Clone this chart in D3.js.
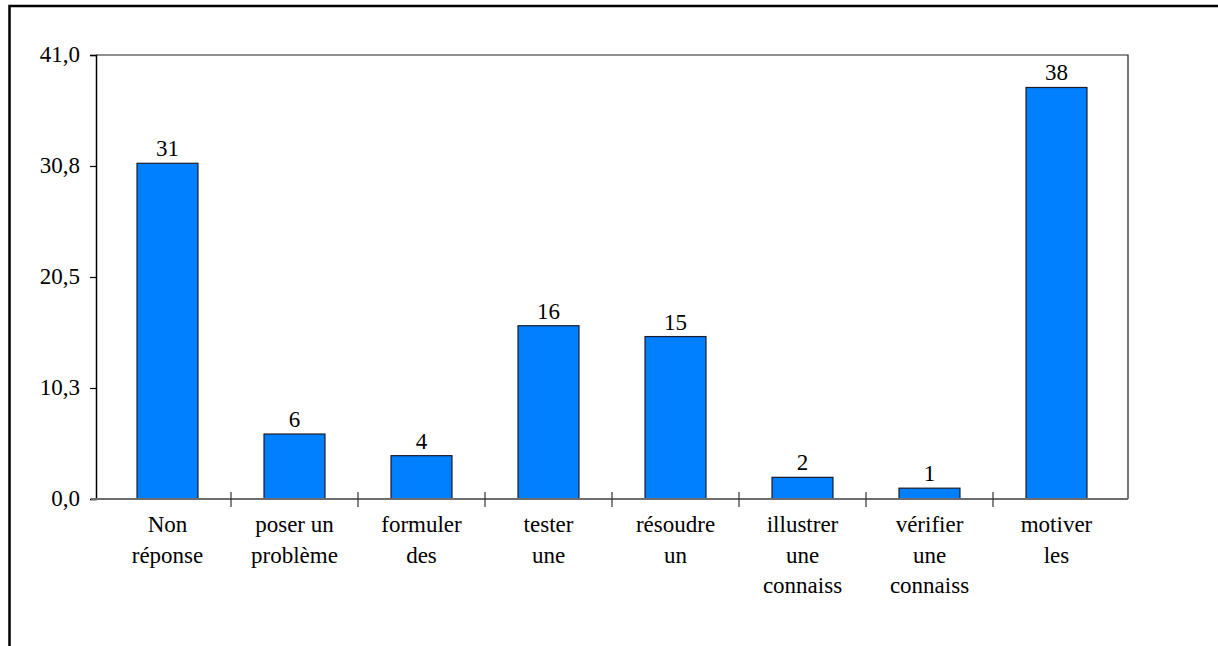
<!DOCTYPE html>
<html>
<head>
<meta charset="utf-8">
<script src="https://cdn.jsdelivr.net/npm/d3@7/dist/d3.min.js"></script>
<style>
  html, body { margin: 0; padding: 0; background: #fff; }
  svg { display: block; }
</style>
</head>
<body>
<svg id="chart" width="1218" height="646"></svg>
<script>
// Categories (each label split into its display lines) and their counts
const categories = [
  ["Non", "réponse"],
  ["poser un", "problème"],
  ["formuler", "des"],
  ["tester", "une"],
  ["résoudre", "un"],
  ["illustrer", "une", "connaiss"],
  ["vérifier", "une", "connaiss"],
  ["motiver", "les"]
];
const values = [31, 6, 4, 16, 15, 2, 1, 38];
const yTicks = [0, 10.25, 20.5, 30.75, 41];
const yMax = 41;

const FONT = "Liberation Serif";

const svg = d3.select("#chart");

// Outer frame of the chart object
svg.append("rect")
  .attr("x", 9.5).attr("y", 6)
  .attr("width", 1230).attr("height", 700)
  .attr("fill", "none").attr("stroke", "#000").attr("stroke-width", 2.5);

const plot = { left: 96, right: 1128, top: 55, bottom: 499 };

const keys = categories.map((c, i) => i);
const x = d3.scaleBand().domain(keys).range([104, 1120]).padding(0);
const y = d3.scaleLinear().domain([0, yMax]).range([plot.bottom, plot.top]);

// Plot area frame (top and right edges)
svg.append("path")
  .attr("d", `M${plot.left},${plot.top}H${plot.right}V${plot.bottom}`)
  .attr("fill", "none").attr("stroke", "#222").attr("stroke-width", 1.2);

// Bars
const barW = x.bandwidth() * 0.48;
svg.append("g").selectAll("rect")
  .data(values)
  .join("rect")
  .attr("x", (d, i) => x(i) + x.bandwidth() / 2 - barW / 2)
  .attr("y", d => y(d))
  .attr("width", barW)
  .attr("height", d => y(0) - y(d))
  .attr("fill", "#0080ff")
  .attr("stroke", "#1a1a2a")
  .attr("stroke-width", 1.2);

// Value labels above bars
svg.append("g").selectAll("text")
  .data(values)
  .join("text")
  .attr("x", (d, i) => x(i) + x.bandwidth() / 2)
  .attr("y", d => y(d) - 7)
  .attr("text-anchor", "middle")
  .style("font-family", FONT)
  .style("font-size", "23px")
  .attr("fill", "#000")
  .text(d => d);

// Y axis
const yAxis = d3.axisLeft(y)
  .tickValues(yTicks)
  .tickSize(6)
  .tickPadding(10)
  .tickFormat(d => d.toFixed(1).replace(".", ","));
const gy = svg.append("g").attr("transform", `translate(${plot.left},0)`).call(yAxis);
gy.attr("font-family", null).attr("font-size", null);
gy.select(".domain").attr("stroke", "#000").attr("stroke-width", 1.5);
gy.selectAll(".tick line").attr("stroke", "#000").attr("stroke-width", 1.2);
gy.selectAll(".tick text")
  .style("font-family", FONT)
  .style("font-size", "23px")
  .attr("dy", "0.3em")
  .attr("fill", "#000");

// X axis baseline
svg.append("line")
  .attr("x1", 91).attr("x2", plot.right)
  .attr("y1", plot.bottom).attr("y2", plot.bottom)
  .attr("stroke", "#6e6e6e").attr("stroke-width", 1.8);

// Category separators crossing the baseline
svg.append("g").selectAll("line")
  .data(keys.slice(1))
  .join("line")
  .attr("x1", d => x(d)).attr("x2", d => x(d))
  .attr("y1", plot.bottom - 7).attr("y2", plot.bottom + 8)
  .attr("stroke", "#333").attr("stroke-width", 1.2);

// Category labels (multi-line)
const lab = svg.append("g").selectAll("text")
  .data(categories)
  .join("text")
  .attr("text-anchor", "middle")
  .style("font-family", FONT)
  .style("font-size", "23px")
  .attr("fill", "#000");
lab.each(function (lines, i) {
  const t = d3.select(this);
  lines.forEach((ln, j) => {
    t.append("tspan")
      .attr("x", x(i) + x.bandwidth() / 2)
      .attr("y", 532 + j * 30.5)
      .text(ln);
  });
});
</script>
</body>
</html>
